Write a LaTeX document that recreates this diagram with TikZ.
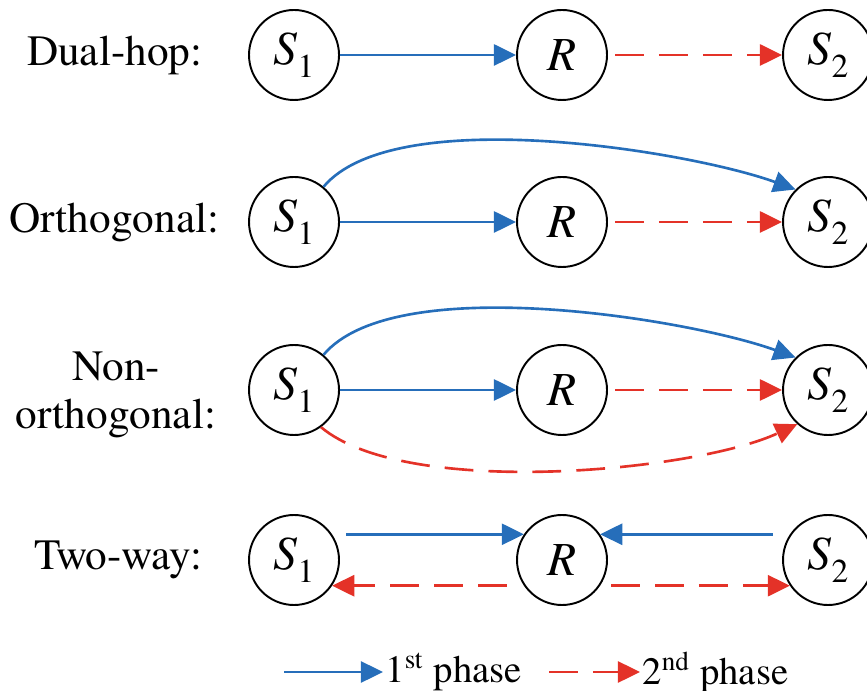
\documentclass[tikz,border=0pt]{standalone}
\usepackage{fontspec}
\setmainfont{TeX Gyre Termes}
\usetikzlibrary{arrows.meta}
\definecolor{phaseblue}{RGB}{38,110,186}
\definecolor{phasered}{RGB}{228,50,40}
\newcommand{\idx}[1]{\raisebox{-0.6ex}{\fontsize{9.5}{9.5}\selectfont #1}}

\begin{document}
\begin{tikzpicture}[
  font=\fontsize{12.3}{13.7}\selectfont,
  term/.style={draw, circle, line width=0.55pt, minimum size=0.9cm, inner sep=0pt, font=\fontsize{13.5}{13.5}\selectfont},
  kind/.style={anchor=east, inner sep=0pt},
  first/.style={phaseblue, line width=0.75pt, -{Triangle[length=6.3pt,width=6pt]}},
  second/.style={phasered, line width=0.75pt, dash pattern=on 8.2pt off 4.3pt, -{Triangle[length=6.3pt,width=6pt]}}]
\useasboundingbox (0, 0) rectangle (8.67, -6.91);

\node[kind] (dual) at (2.03, -0.55) {Dual-hop:};
\node[term] (S1a) at (2.94, -0.55) {\textit{S}\idx{1}};
\node[term] (Ra) at (5.62, -0.55) {\textit{R}};
\node[term] (S2a) at (8.28, -0.55) {\textit{S}\idx{2}};
\draw[first] (S1a) -- (Ra);
\draw[second, shorten <=2pt] (Ra) -- (S2a);

\node[kind] (orth) at (2.20, -2.22) {Orthogonal:};
\node[term] (S1b) at (2.94, -2.22) {\textit{S}\idx{1}};
\node[term] (Rb) at (5.62, -2.22) {\textit{R}};
\node[term] (S2b) at (8.28, -2.22) {\textit{S}\idx{2}};
\draw[first] (S1b) -- (Rb);
\draw[second, shorten <=2pt] (Rb) -- (S2b);
\draw[first] (S1b.50) to[out=50, in=160, looseness=0.6] (S2b.135);

\node[align=center] (nonorth) at (1.16, -3.95) {Non-\\orthogonal:};
\node[term] (S1c) at (2.94, -3.90) {\textit{S}\idx{1}};
\node[term] (Rc) at (5.62, -3.90) {\textit{R}};
\node[term] (S2c) at (8.28, -3.90) {\textit{S}\idx{2}};
\draw[first] (S1c) -- (Rc);
\draw[second, shorten <=2pt] (Rc) -- (S2c);
\draw[first] (S1c.50) to[out=50, in=160, looseness=0.6] (S2c.135);
\draw[second] (S1c.-54) to[out=-40, in=-155, looseness=0.6] (S2c.-132);

\node[kind] (twoway) at (2.03, -5.60) {Two-way:};
\node[term] (S1d) at (2.94, -5.60) {\textit{S}\idx{1}};
\node[term] (Rd) at (5.62, -5.60) {\textit{R}};
\node[term] (S2d) at (8.28, -5.60) {\textit{S}\idx{2}};
\draw[first, shorten <=0.14cm] (S1d.34) -- (Rd.146);
\draw[first, shorten <=0.17cm] (S2d.146) -- (Rd.34);
\draw[second, shorten <=0.17cm] (Rd.-146) -- (S1d.-34);
\draw[second, shorten <=0.11cm] (Rd.-34) -- (S2d.-146);

\coordinate (lgfirst) at (2.84, -6.72);
\node[anchor=west, inner sep=0.5pt, font=\fontsize{11}{12}\selectfont] (lgfirsttxt) at (3.83, -6.72) {1\textsuperscript{st} phase};
\draw[first] (lgfirst) -- (lgfirsttxt);
\coordinate (lgsecond) at (5.49, -6.72);
\node[anchor=west, inner sep=0.5pt, font=\fontsize{11}{12}\selectfont] (lgsecondtxt) at (6.40, -6.72) {2\textsuperscript{nd} phase};
\draw[second] (lgsecond) -- (lgsecondtxt);
\end{tikzpicture}
\end{document}
